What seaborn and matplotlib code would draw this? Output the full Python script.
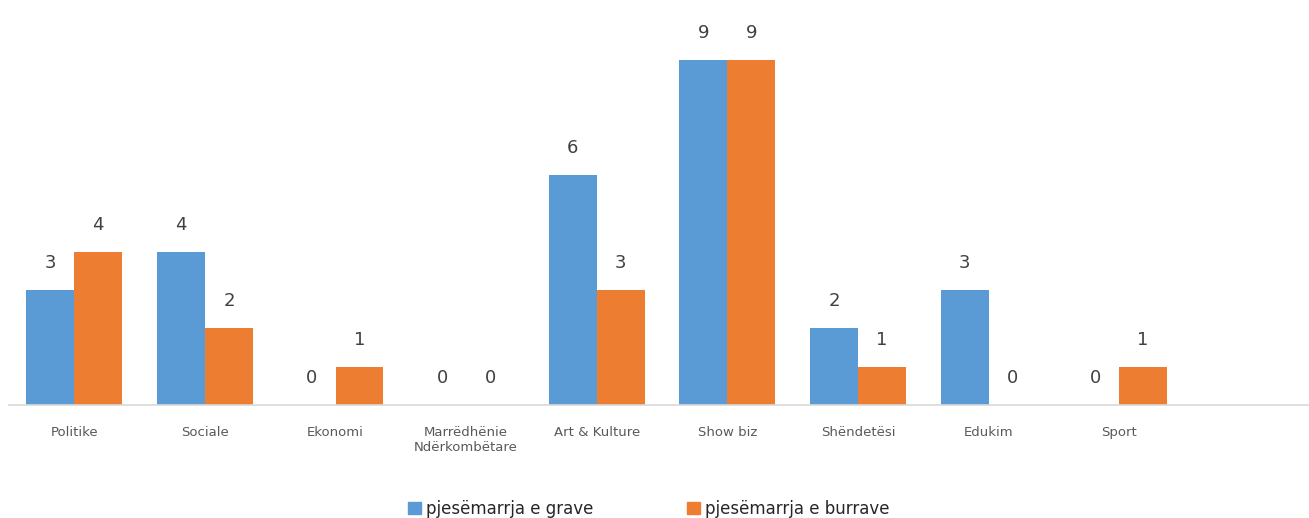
import matplotlib
matplotlib.use("Agg")
import matplotlib.pyplot as plt
import seaborn as sns
import pandas as pd

categories = ["Politike", "Sociale", "Ekonomi", "Marrëdhënie\nNdërkombëtare",
              "Art & Kulture", "Show biz", "Shëndetësi", "Edukim", "Sport"]
grave = [3, 4, 0, 0, 6, 9, 2, 3, 0]
burrave = [4, 2, 1, 0, 3, 9, 1, 0, 1]
series_names = ["pjesëmarrja e grave", "pjesëmarrja e burrave"]
colors = ["#5B9BD5", "#ED7D31"]

df = pd.DataFrame({
    "kategoria": categories * 2,
    "vlera": grave + burrave,
    "seria": [series_names[0]] * len(categories) + [series_names[1]] * len(categories),
})

sns.set_theme(style="white")
plt.rcParams["font.family"] = ["DejaVu Sans"]

fig = plt.figure(figsize=(13.09, 5.18), dpi=100)
ax = fig.add_axes([9 / 1309, 113 / 518, 1306 / 1309, 383 / 518])

sns.barplot(data=df, x="kategoria", y="vlera", hue="seria", order=categories,
            hue_order=series_names, palette=colors, saturation=1, width=0.735,
            linewidth=0, ax=ax, legend=False)

for container in ax.containers:
    ax.bar_label(container, fmt="%d", padding=13, fontsize=13, color="#404040")

ax.set_xlim(-0.5, len(categories) + 0.5)
ax.set_ylim(0, 10)
ax.set_xlabel("")
ax.set_ylabel("")
ax.set_yticks([])
ax.tick_params(axis="x", length=0, pad=15, labelsize=9.5, labelcolor="#595959")
for side in ["top", "left", "right"]:
    ax.spines[side].set_visible(False)
ax.spines["bottom"].set_color("#D9D9D9")
ax.spines["bottom"].set_linewidth(1.2)

handles = [plt.Rectangle((0, 0), 1, 1, color=c) for c in colors]
fig.legend(handles, series_names, loc="center", bbox_to_anchor=(0.4955, 0.018),
           ncol=2, frameon=False, fontsize=12, handlelength=0.8, handleheight=0.8,
           handletextpad=0.3, columnspacing=5.6, labelcolor="#262626")

fig.savefig("out.png", dpi=100)
